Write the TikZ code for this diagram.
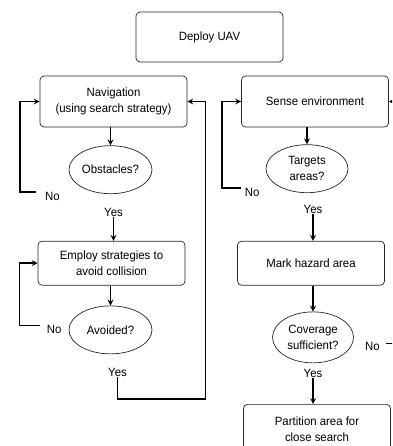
\documentclass[tikz,border=0pt]{standalone}
\usepackage{fontspec}
\setmainfont{Liberation Sans}[FakeStretch=0.95]
\usetikzlibrary{shapes.geometric, arrows, positioning}

\begin{document}
\begin{tikzpicture}[
    x=1pt, y=-1pt,
    font=\fontsize{12pt}{16pt}\selectfont,
    stepbox/.style={rectangle, draw=black!85, fill=white, rounded corners=4pt, line width=0.7pt, minimum width=147pt, minimum height=44pt, align=center, inner sep=2pt},
    tallbox/.style={stepbox, minimum height=51pt},
    decision/.style={ellipse, draw=black!85, fill=white, line width=0.7pt, minimum width=83pt, minimum height=48pt, align=center, inner sep=0pt},
    answer/.style={inner sep=0pt},
    arrow/.style={->, >=stealth, line width=1.6pt, draw=black}
]
\useasboundingbox (0,0) rectangle (392,446);
\clip (0,0) rectangle (392,446);

% Top
\node[stepbox, minimum height=50pt] (deploy) at (209.5,37) {Deploy UAV};

% Left Column: Navigation & Collision Avoidance
\node[tallbox] (nav) at (113.5,101.5) {Navigation\\(using search strategy)};
\node[decision, below=18pt of nav, xshift=-3pt] (obstacles) {Obstacles?};
\node[answer, below left=5pt and 21pt of obstacles] (no1) {No};
\node[answer, below=14pt of obstacles, xshift=3pt] (yes1) {Yes};
\node[stepbox, below=24pt of yes1, xshift=-2pt] (employ) {Employ strategies to\\avoid collision};
\node[decision, below=20pt of employ, xshift=-1pt] (avoided) {Avoided?};
\node[answer, left=7pt of avoided] (no2) {No};
\node[answer, below=14pt of avoided, xshift=7pt] (yes2) {Yes};

% Right Column: Sensing & Hazard Marking
\node[tallbox] (sense) at (315,101.5) {Sense environment};
\node[decision, minimum width=82pt, below=17pt of sense, xshift=-8pt] (targets) {Targets\\areas?};
\node[answer, below left=2pt and 18pt of targets] (no3) {No};
\node[answer, below=12pt of targets, xshift=6pt] (yes3) {Yes};
\node[stepbox, below=27pt of yes3, xshift=-2pt] (mark) {Mark hazard area};
\node[decision, minimum width=81pt, minimum height=51pt, below=26pt of mark, xshift=2pt] (coverage) {Coverage\\sufficient?};
\node[answer, right=11pt of coverage, yshift=-9pt] (no4) {No};
\node[answer, below=6pt of coverage] (yes4) {Yes};
\node[stepbox, minimum height=50pt, below=26pt of yes4, xshift=4pt] (partition) {Partition area for\\close search};

% Left Flow
\draw[arrow] (nav.south -| obstacles) -- (obstacles);
\draw[arrow] (yes1.south) -- (yes1.south |- employ.north);
\draw[arrow] (employ.south -| avoided) -- (avoided);
\draw[arrow] ([xshift=-9pt]no1.north west) -- ++(-16,0) |- (nav.west);
\draw[arrow] ([xshift=-7pt]no2.north west) -- ++(-20,0) |- (employ.west);
\draw[arrow] (yes2.south) -- ++(0,22) -- ++(88,0) |- (nav.east);

% Right Flow
\draw[arrow] (sense.south -| targets) -- (targets);
\draw[arrow] (yes3.south) -- (yes3.south |- mark.north);
\draw[arrow] (mark.south -| coverage) -- (coverage);
\draw[arrow] (yes4.south) -- (yes4.south |- partition.north);
\draw[arrow] ([xshift=-4pt]no3.north west) -- ++(-19,0) |- (sense.west);
\draw[arrow] ([xshift=6pt,yshift=3pt]no4.east) -- ++(14,0) |- (sense.east);

\end{tikzpicture}
\end{document}
